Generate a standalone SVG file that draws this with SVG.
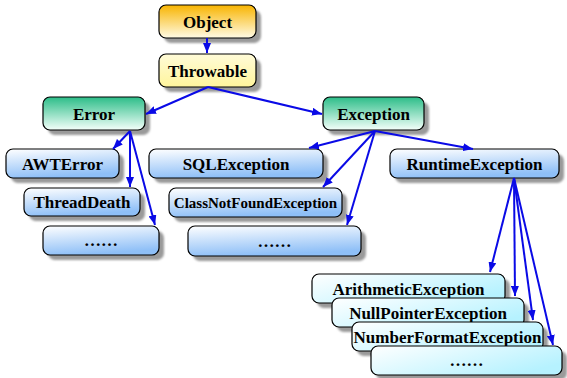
<svg xmlns="http://www.w3.org/2000/svg" width="567" height="378" viewBox="0 0 567 378">
<style>
.sh{fill:#9a9a9a;filter:url(#blur)}
.bx{stroke:#000;stroke-width:1.2}
.t{font-family:"Liberation Serif","Times New Roman",serif;font-weight:bold;font-size:17px;text-anchor:middle;fill:#000}
.s{font-size:15px}
.c{stroke:#0a0ae6;stroke-width:2;fill:none;marker-end:url(#ah)}
</style>
<defs>
<filter id="blur" x="-10%" y="-30%" width="120%" height="160%"><feGaussianBlur stdDeviation="1.2"/></filter>
<linearGradient id="gO" x1="0" y1="0" x2="0" y2="1"><stop offset="0" stop-color="#f8b400"/><stop offset="1" stop-color="#fffbe6"/></linearGradient>
<linearGradient id="gT" x1="0" y1="0" x2="0" y2="1"><stop offset="0" stop-color="#fffbd8"/><stop offset="1" stop-color="#fff59c"/></linearGradient>
<linearGradient id="gG" x1="0" y1="0" x2="0" y2="1"><stop offset="0" stop-color="#2cbd88"/><stop offset="1" stop-color="#f4fffa"/></linearGradient>
<linearGradient id="gB" x1="0" y1="0" x2="0.25" y2="1"><stop offset="0" stop-color="#ffffff"/><stop offset="1" stop-color="#8ebff7"/></linearGradient>
<linearGradient id="gC" x1="0" y1="0" x2="1" y2="0.6"><stop offset="0" stop-color="#ffffff"/><stop offset="1" stop-color="#b6f2ff"/></linearGradient>
<marker id="ah" markerUnits="userSpaceOnUse" markerWidth="10" markerHeight="8" refX="10" refY="4" orient="auto"><path d="M0,0 L10,4 L0,8 z" fill="#0a0ae6"/></marker>
</defs>

<g id="object"><rect class="sh" x="164" y="10" width="97" height="33" rx="7"/><rect class="bx" x="159" y="5" width="97" height="33" rx="7" fill="url(#gO)"/><text class="t" x="207.5" y="27.5">Object</text></g>
<g id="throwable"><rect class="sh" x="164" y="59" width="97" height="33" rx="7"/><rect class="bx" x="159" y="54" width="97" height="33" rx="7" fill="url(#gT)"/><text class="t" x="207.5" y="76.5">Throwable</text></g>
<g id="error"><rect class="sh" x="48" y="102" width="102" height="33" rx="7"/><rect class="bx" x="43" y="97" width="102" height="33" rx="7" fill="url(#gG)"/><text class="t" x="94" y="119.5">Error</text></g>
<g id="exception"><rect class="sh" x="328" y="102" width="101" height="33" rx="7"/><rect class="bx" x="323" y="97" width="101" height="33" rx="7" fill="url(#gG)"/><text class="t" x="373.5" y="119.5">Exception</text></g>

<g id="awterror"><rect class="sh" x="11" y="154" width="113" height="29" rx="7"/><rect class="bx" x="6" y="149" width="113" height="29" rx="7" fill="url(#gB)"/><text class="t" x="62.5" y="169.5">AWTError</text></g>
<g id="threaddeath"><rect class="sh" x="29" y="193" width="116" height="28" rx="7"/><rect class="bx" x="24" y="188" width="116" height="28" rx="7" fill="url(#gB)"/><text class="t" x="82" y="208">ThreadDeath</text></g>
<g id="error-more"><rect class="sh" x="48" y="231" width="116" height="29" rx="7"/><rect class="bx" x="43" y="226" width="116" height="29" rx="7" fill="url(#gB)"/><text class="t" x="101" y="246">……</text></g>

<g id="sqlexception"><rect class="sh" x="154" y="154" width="174" height="29" rx="7"/><rect class="bx" x="149" y="149" width="174" height="29" rx="7" fill="url(#gB)"/><text class="t" x="236" y="169.5">SQLException</text></g>
<g id="classnotfound"><rect class="sh" x="174" y="193" width="173" height="29" rx="7"/><rect class="bx" x="169" y="188" width="173" height="29" rx="7" fill="url(#gB)"/><text class="t s" x="255.5" y="207.5">ClassNotFoundException</text></g>
<g id="exception-more"><rect class="sh" x="193" y="231" width="173" height="30" rx="7"/><rect class="bx" x="188" y="226" width="173" height="30" rx="7" fill="url(#gB)"/><text class="t" x="274.5" y="246.5">……</text></g>
<g id="runtimeexception"><rect class="sh" x="395" y="154" width="169" height="29" rx="7"/><rect class="bx" x="390" y="149" width="169" height="29" rx="7" fill="url(#gB)"/><text class="t" x="474.5" y="169.5">RuntimeException</text></g>

<g id="arithmetic"><rect class="sh" x="317" y="279" width="193" height="29" rx="7"/><rect class="bx" x="312" y="274" width="193" height="29" rx="7" fill="url(#gC)"/><text class="t" x="408.5" y="294.5">ArithmeticException</text></g>
<g id="nullpointer"><rect class="sh" x="337" y="303" width="192" height="29" rx="7"/><rect class="bx" x="332" y="298" width="192" height="29" rx="7" fill="url(#gC)"/><text class="t" x="428" y="318.5">NullPointerException</text></g>
<g id="numberformat"><rect class="sh" x="357" y="327" width="191" height="29" rx="7"/><rect class="bx" x="352" y="322" width="191" height="29" rx="7" fill="url(#gC)"/><text class="t" x="447.5" y="342.5">NumberFormatException</text></g>
<g id="runtime-more"><rect class="sh" x="376" y="351" width="191" height="29" rx="7"/><rect class="bx" x="371" y="346" width="191" height="29" rx="7" fill="url(#gC)"/><text class="t" x="466.5" y="366">……</text></g>

<g id="connectors">
<line class="c" x1="207" y1="38" x2="207" y2="53"/>
<line class="c" x1="208" y1="87" x2="146" y2="114"/>
<line class="c" x1="208" y1="87" x2="322" y2="114"/>
<line class="c" x1="130" y1="131" x2="113" y2="149"/>
<line class="c" x1="130" y1="131" x2="130" y2="187"/>
<line class="c" x1="130" y1="131" x2="155" y2="225"/>
<line class="c" x1="375" y1="131" x2="309" y2="148"/>
<line class="c" x1="375" y1="131" x2="323" y2="187"/>
<line class="c" x1="375" y1="131" x2="347" y2="225"/>
<line class="c" x1="375" y1="131" x2="473" y2="149"/>
<line class="c" x1="514" y1="178" x2="490" y2="272"/>
<line class="c" x1="514" y1="178" x2="515" y2="296"/>
<line class="c" x1="514" y1="178" x2="533" y2="320"/>
<line class="c" x1="514" y1="178" x2="553" y2="345"/>
</g>
</svg>
